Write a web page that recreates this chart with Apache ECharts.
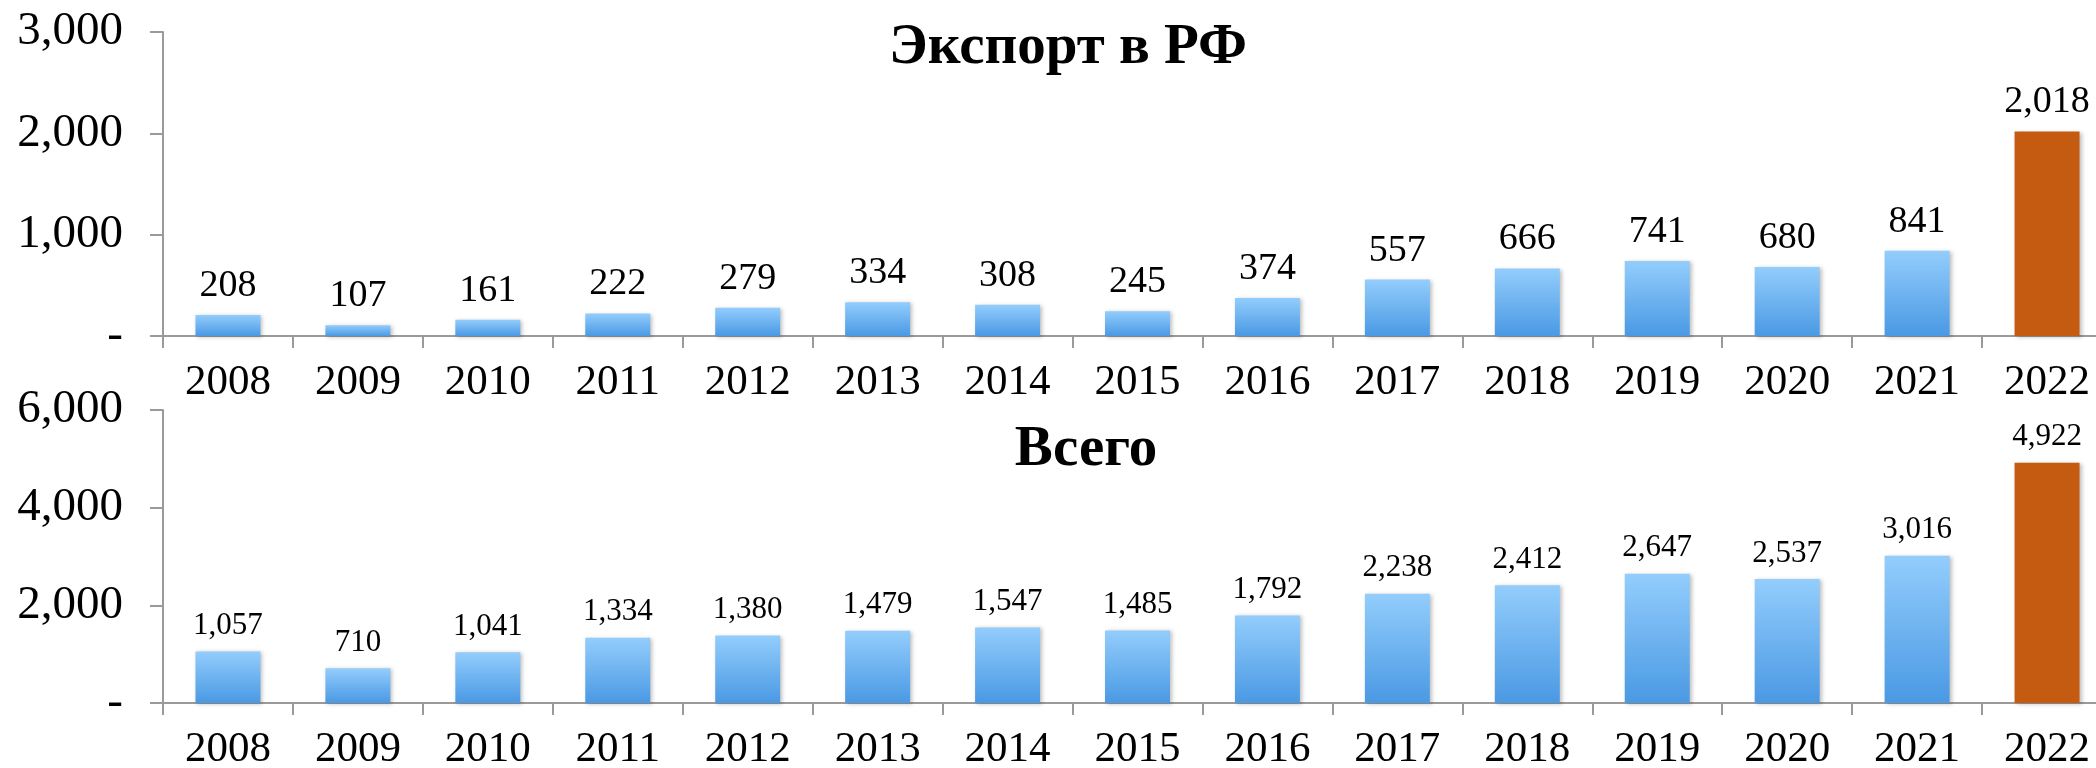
<!DOCTYPE html>
<html>
<head>
<meta charset="utf-8">
<style>
  html, body { margin: 0; padding: 0; background: #fff; }
  #myChart { width: 2096px; height: 768px; }
</style>
<script src="https://cdn.jsdelivr.net/npm/echarts@6/dist/echarts.min.js"></script>
</head>
<body>
<div id="myChart"></div>
<script>
// данные
const years = ['2008', '2009', '2010', '2011', '2012', '2013', '2014', '2015',
  '2016', '2017', '2018', '2019', '2020', '2021', '2022'];
const exportRF = [208, 107, 161, 222, 279, 334, 308, 245, 374, 557, 666, 741, 680, 841, 2018];
const totalAll = [1057, 710, 1041, 1334, 1380, 1479, 1547, 1485, 1792, 2238, 2412, 2647, 2537, 3016, 4922];
const exportTicks = [0, 3000, 1000];   // min, max, interval
const totalTicks = [0, 6000, 2000];

const FONT = 'Liberation Serif';
const blue = new echarts.graphic.LinearGradient(0, 0, 0, 1, [
  { offset: 0, color: '#93CDFC' },
  { offset: 1, color: '#4A99E4' }
]);
const orange = '#C55A11';

function fmt(v) {
  return v === 0 ? '-' : v.toLocaleString('en-US');
}

// последний год выделен цветом
function barData(arr) {
  return arr.map((v, i) => ({
    value: v,
    itemStyle: { color: i === arr.length - 1 ? orange : blue }
  }));
}

function xAxis(gridIndex) {
  return {
    type: 'category',
    gridIndex: gridIndex,
    data: years,
    axisLine: { lineStyle: { color: '#9a9a9a', width: 2 } },
    axisTick: { show: true, length: 12, lineStyle: { color: '#9a9a9a', width: 2 } },
    axisLabel: { color: '#000', fontFamily: FONT, fontSize: 43, margin: 25 }
  };
}

function yAxis(gridIndex, ticks) {
  return {
    type: 'value',
    gridIndex: gridIndex,
    min: ticks[0],
    max: ticks[1],
    interval: ticks[2],
    splitLine: { show: false },
    axisLine: { show: true, lineStyle: { color: '#9a9a9a', width: 2 } },
    axisTick: { show: true, length: 13, lineStyle: { color: '#9a9a9a', width: 2 } },
    axisLabel: { color: '#000', fontFamily: FONT, fontSize: 47, margin: 40, formatter: fmt }
  };
}

function series(idx, arr, labelSize) {
  return {
    type: 'bar',
    xAxisIndex: idx,
    yAxisIndex: idx,
    barWidth: '50%',
    data: barData(arr),
    itemStyle: {
      shadowBlur: 4,
      shadowOffsetX: 2,
      shadowOffsetY: 1,
      shadowColor: 'rgba(0,0,0,0.25)'
    },
    label: {
      show: true,
      position: 'top',
      distance: 10,
      color: '#000',
      fontFamily: FONT,
      fontSize: labelSize,
      formatter: p => fmt(p.value)
    }
  };
}

const myChart = echarts.init(document.getElementById('myChart'));
const option = {
  animation: false,
  backgroundColor: '#fff',
  title: [
    {
      text: 'Экспорт в РФ', left: 1068, top: 20, textAlign: 'center', padding: 0,
      textStyle: { fontFamily: FONT, fontSize: 57, fontWeight: 'bold', color: '#000' }
    },
    {
      text: 'Всего', left: 1086, top: 422, textAlign: 'center', padding: 0,
      textStyle: { fontFamily: FONT, fontSize: 57, fontWeight: 'bold', color: '#000' }
    }
  ],
  grid: [
    { left: 163, top: 32, width: 1949, height: 304, outerBoundsMode: 'none', containLabel: false },
    { left: 163, top: 410, width: 1949, height: 293, outerBoundsMode: 'none', containLabel: false }
  ],
  xAxis: [xAxis(0), xAxis(1)],
  yAxis: [yAxis(0, exportTicks), yAxis(1, totalTicks)],
  series: [series(0, exportRF, 38), series(1, totalAll, 31)]
};
myChart.setOption(option);

window.addEventListener('resize', () => {
  myChart.resize();
});
</script>
</body>
</html>
